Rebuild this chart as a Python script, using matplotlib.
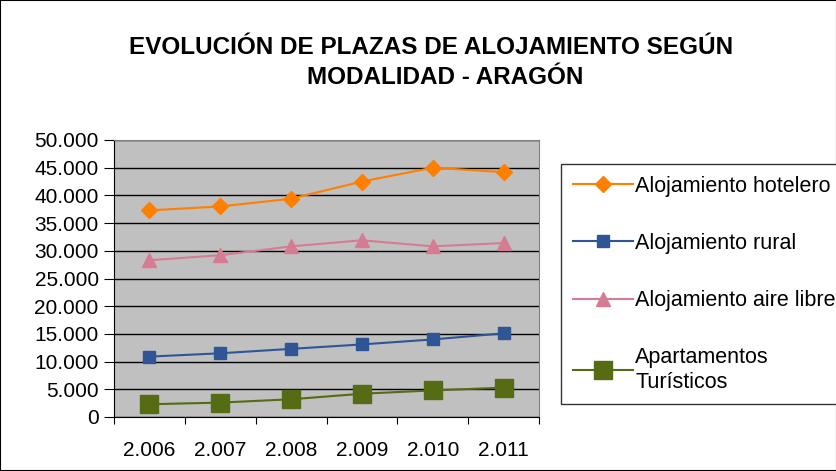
import matplotlib.pyplot as plt
import numpy as np
from matplotlib.patches import Rectangle
from matplotlib.ticker import FuncFormatter

plt.rcParams['font.family'] = ['Liberation Sans', 'DejaVu Sans']

years = ['2.006', '2.007', '2.008', '2.009', '2.010', '2.011']
hotelero = [37300, 38000, 39400, 42500, 45000, 44200]
rural = [10900, 11500, 12300, 13100, 14000, 15100]
aire_libre = [28300, 29200, 30800, 31900, 30800, 31400]
apartamentos = [2300, 2600, 3200, 4200, 4800, 5300]

W, H = 837, 471
fig = plt.figure(figsize=(W / 100, H / 100), dpi=100)
ax = fig.add_axes([114 / W, 1 - 417 / H, (539 - 114) / W, (417 - 140) / H])
ax.set_facecolor('#C0C0C0')

x = np.arange(len(years)) + 0.5
ax.plot(x, hotelero, color='#FF8000', marker='D', markersize=8, lw=1.5,
        label='Alojamiento hotelero', zorder=3)
ax.plot(x, rural, color='#2F5597', marker='s', markersize=9, lw=1.5,
        markeredgecolor='#2F5597', label='Alojamiento rural', zorder=3)
ax.plot(x, aire_libre, color='#D67C92', marker='^', markersize=10, lw=1.5,
        label='Alojamiento aire libre', zorder=3)
ax.plot(x, apartamentos, color='#556B14', marker='s', markersize=13, lw=1.5,
        label='Apartamentos\nTurísticos', zorder=3)

ax.set_xlim(0, len(years))
ax.set_ylim(0, 50000)
ax.set_yticks(np.arange(0, 50001, 5000))
ax.yaxis.set_major_formatter(FuncFormatter(lambda v, p: f'{int(v):,}'.replace(',', '.')))
ax.set_xticks(np.arange(0, len(years) + 1))
ax.set_xticklabels([])
ax.set_xticks(x, minor=True)
ax.set_xticklabels(years, minor=True)
ax.tick_params(axis='x', which='minor', length=0, labelsize=15, pad=17)
ax.tick_params(axis='x', which='major', length=5, direction='out', color='black')
ax.tick_params(axis='y', length=7, labelsize=15, direction='out', pad=4)
ax.grid(axis='y', color='black', lw=1)
for s in ['top', 'right']:
    ax.spines[s].set_color('#808080')
for s in ['left', 'bottom']:
    ax.spines[s].set_color('black')

fig.text(431 / W, 1 - 47 / H, 'EVOLUCIÓN DE PLAZAS DE ALOJAMIENTO SEGÚN',
         ha='center', va='center', fontsize=17.5, fontweight='bold')
fig.text(445 / W, 1 - 77 / H, 'MODALIDAD - ARAGÓN',
         ha='center', va='center', fontsize=17.5, fontweight='bold')

leg = fig.legend(loc='upper left', bbox_to_anchor=(561 / W, 1 - 164 / H),
                 fontsize=15.5, frameon=True, fancybox=False, edgecolor='black',
                 labelspacing=1.68, handlelength=2.8, borderpad=0.55,
                 borderaxespad=0, handletextpad=0.1)
leg.get_frame().set_linewidth(1)

fig.patches.append(Rectangle((0, 0), 1, 1, transform=fig.transFigure,
                             fill=False, edgecolor='black', lw=1.5))

fig.savefig('out.png', dpi=100)
